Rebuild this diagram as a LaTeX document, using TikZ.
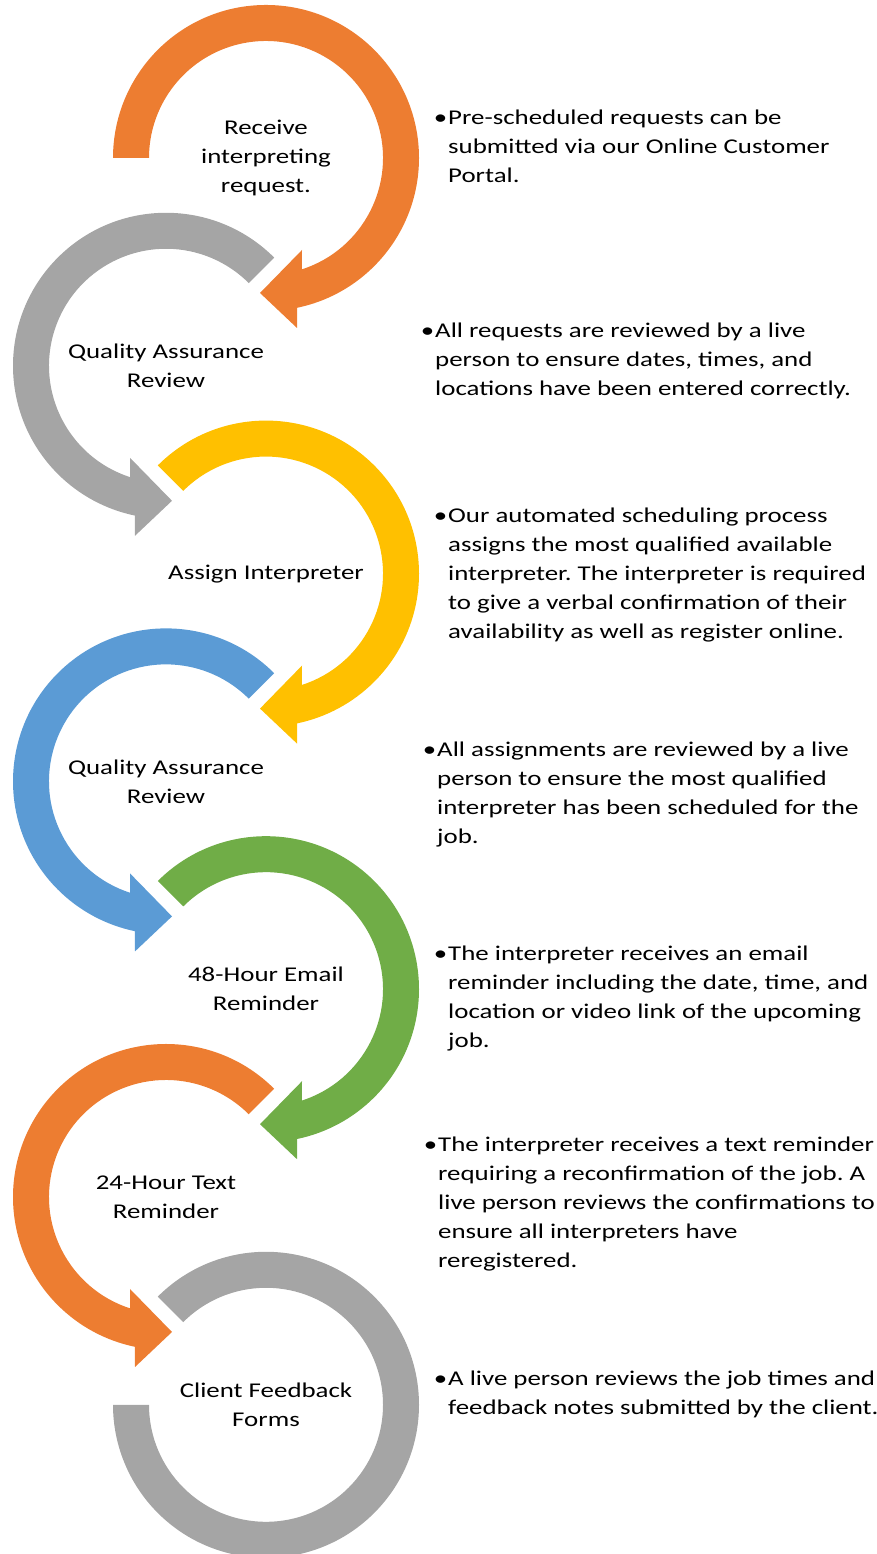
\documentclass[tikz,border=0pt]{standalone}
\usepackage{fontspec}
\setmainfont{Carlito}[FakeStretch=1.28]
\frenchspacing
\definecolor{cOrange}{HTML}{ED7D31}
\definecolor{cGray}{HTML}{A5A5A5}
\definecolor{cYellow}{HTML}{FFC000}
\definecolor{cBlue}{HTML}{5B9BD5}
\definecolor{cGreen}{HTML}{70AD47}
\newcommand\RArc[3]{%
  \begin{scope}[shift={(#1)}]
    \fill[#3] (#2:153) arc[start angle=#2, end angle=-78.25, radius=153]
      -- (31,-170) -- (-6,-135) -- (36,-92) -- (-72.2:117)
      arc[start angle=-72.2, end angle=#2, radius=117] -- cycle;
  \end{scope}}
\newcommand\LArc[2]{%
  \begin{scope}[shift={(#1)}]
    \fill[#2] (45:153) arc[start angle=45, end angle=258.25, radius=153]
      -- (-31,-170) -- (6,-135) -- (-36,-92) -- (252.2:117)
      arc[start angle=252.2, end angle=45, radius=117] -- cycle;
  \end{scope}}
\begin{document}
\begin{tikzpicture}[x=1pt,y=1pt,
  lbl/.style={font=\fontsize{21}{29}\selectfont\frenchspacing, align=center, inner sep=0pt, text=black},
  desc/.style={font=\fontsize{21}{29}\selectfont\frenchspacing, align=left, inner sep=0pt, anchor=base west, text=black}]
\useasboundingbox (0,0) rectangle (877,1554);
\clip (0,0) rectangle (877,1554);
\coordinate (c0) at (266,1396);
\coordinate (c1) at (166,1188.2);
\coordinate (c2) at (266,980.4);
\coordinate (c3) at (166,772.6);
\coordinate (c4) at (266,564.8);
\coordinate (c5) at (166,357);
\coordinate (c6) at (266,149.2);
\RArc{c0}{180}{cOrange}
\LArc{c1}{cGray}
\RArc{c2}{135}{cYellow}
\LArc{c3}{cBlue}
\RArc{c4}{135}{cGreen}
\LArc{c5}{cOrange}
\begin{scope}[shift={(c6)}]
  \fill[cGray] (135:153) arc[start angle=135, end angle=-180, radius=153]
    -- (180:117) arc[start angle=-180, end angle=135, radius=117] -- cycle;
\end{scope}
\node[lbl] (l0) at (c0) {Receive\\interpreting\\request.};
\node[lbl] (l1) at (c1) {Quality Assurance\\Review};
\node[lbl] (l2) at (c2) {Assign Interpreter};
\node[lbl] (l3) at (c3) {Quality Assurance\\Review};
\node[lbl] (l4) at (c4) {48-Hour Email\\Reminder};
\node[lbl] (l5) at (c5) {24-Hour Text\\Reminder};
\node[lbl] (l6) at (c6) {Client Feedback\\Forms};
\node[desc] (d0) at (448,1371) {\llap{•\kern1pt}Pre-scheduled requests can be\\submitted via our Online Customer\\Portal.};
\node[desc] (d1) at (435,1158) {\llap{•\kern1pt}All requests are reviewed by a live\\person to ensure dates, times, and\\locations have been entered correctly.};
\node[desc] (d2) at (448,915) {\llap{•\kern1pt}Our automated scheduling process\\assigns the most qualified available\\interpreter. The interpreter is required\\to give a verbal confirmation of their\\availability as well as register online.};
\node[desc] (d3) at (437,710) {\llap{•\kern1pt}All assignments are reviewed by a live\\person to ensure the most qualified\\interpreter has been scheduled for the\\job.};
\node[desc] (d4) at (448,506) {\llap{•\kern1pt}The interpreter receives an email\\reminder including the date, time, and\\location or video link of the upcoming\\job.};
\node[desc] (d5) at (438,286) {\llap{•\kern1pt}The interpreter receives a text reminder\\requiring a reconfirmation of the job. A\\live person reviews the confirmations to\\ensure all interpreters have\\reregistered.};
\node[desc] (d6) at (448,139) {\llap{•\kern1pt}A live person reviews the job times and\\feedback notes submitted by the client.};
\end{tikzpicture}
\end{document}
